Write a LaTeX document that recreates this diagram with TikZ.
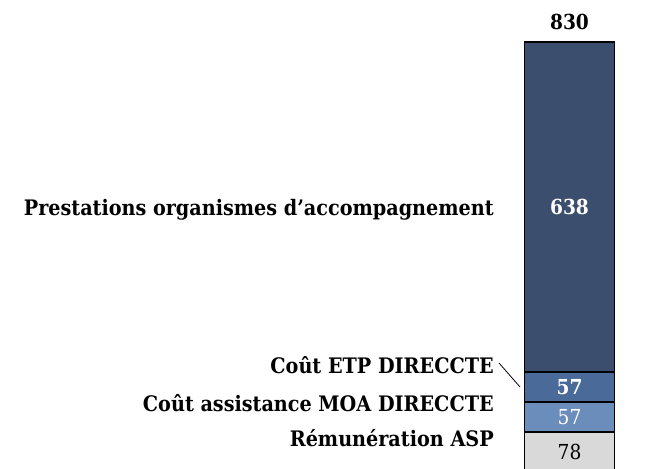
\documentclass[tikz,border=0pt]{standalone}
\usepackage{fontspec}
\setmainfont{DejaVu Serif Condensed}
\usetikzlibrary{positioning}
\definecolor{barnavy}{HTML}{3B4E6E}
\definecolor{barblue}{HTML}{4A6A9A}
\definecolor{barlight}{HTML}{6B8DBB}
\definecolor{bargray}{HTML}{D9D9DA}
\begin{document}
\begin{tikzpicture}[x=0.75pt, y=-0.75pt,
  seg/.style={draw=black, line width=1pt, minimum width=67.5pt, inner sep=0pt, font=\fontsize{15.5}{17}\selectfont},
  lab/.style={anchor=east, inner sep=0pt, font=\fontsize{16}{18}\selectfont\bfseries}]

\useasboundingbox (0,0) rectangle (646,468);

% ----- Stacked bar -----
\node[seg, fill=barnavy, text=white, minimum height=247.5pt] (prest) at (569.5,207) {\bfseries 638};
\node[seg, fill=barblue, text=white, minimum height=22.5pt] (etp) at (569.5,387) {\bfseries 57};
\node[seg, fill=barlight, text=white, minimum height=22.5pt] (moa) at (569.5,417) {57};
\node[seg, fill=bargray, minimum height=30pt] (asp) at (569.5,452) {78};

% ----- Total -----
\node[font=\fontsize{15.5}{17}\selectfont\bfseries] (total) at (569.5,22) {830};

% ----- Labels -----
\node[lab] (lprest) at (494,210) {Prestations organismes d’accompagnement};
\node[lab] (letp) at (494,365) {Coût ETP DIRECCTE};
\node[lab] (lmoa) at (494,403) {Coût assistance MOA DIRECCTE};
\node[lab] (lasp) at (494,438) {Rémunération ASP};

% ----- Leader line -----
\coordinate (etpend) at (520,387);
\draw[line width=0.6pt] (499,363) -- (etpend);
\end{tikzpicture}
\end{document}
